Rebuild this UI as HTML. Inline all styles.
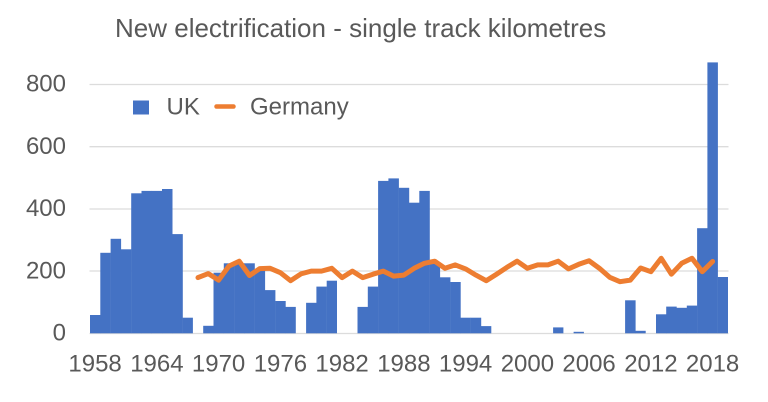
<!DOCTYPE html>
<html>
<head>
<meta charset="utf-8">
<style>
html,body{margin:0;padding:0;background:#fff;}
svg{display:block;}
text{font-family:"Liberation Sans","DejaVu Sans",sans-serif;fill:#595959;}
</style>
</head>
<body>
<svg width="768" height="402" viewBox="0 0 768 402" xmlns="http://www.w3.org/2000/svg">
<rect width="768" height="402" fill="#fff"/>
<text x="115" y="37" font-size="26">New electrification - single track kilometres</text>
<g stroke="#dcdcdc" stroke-width="1.3">
<line x1="89.5" y1="84.5" x2="728.5" y2="84.5"/>
<line x1="89.5" y1="146.7" x2="728.5" y2="146.7"/>
<line x1="89.5" y1="209" x2="728.5" y2="209"/>
<line x1="89.5" y1="271" x2="728.5" y2="271"/>
<line x1="89.5" y1="333.5" x2="728.5" y2="333.5"/>
</g>
<g font-size="24" text-anchor="end">
<text x="66" y="91.7">800</text>
<text x="66" y="153.9">600</text>
<text x="66" y="216.1">400</text>
<text x="66" y="278.3">200</text>
<text x="66" y="340.5">0</text>
</g>
<g fill="#4472C4">
<rect x="90.0" y="315.0" width="10.5" height="18.3"/>
<rect x="100.3" y="252.8" width="10.5" height="80.5"/>
<rect x="110.6" y="238.8" width="10.5" height="94.5"/>
<rect x="120.9" y="249.3" width="10.5" height="84.0"/>
<rect x="131.2" y="193.3" width="10.5" height="140.0"/>
<rect x="141.5" y="190.9" width="10.5" height="142.4"/>
<rect x="151.7" y="190.9" width="10.5" height="142.4"/>
<rect x="162.0" y="189.0" width="10.5" height="144.3"/>
<rect x="172.3" y="234.1" width="10.5" height="99.2"/>
<rect x="182.6" y="317.7" width="10.3" height="15.6"/>
<rect x="203.2" y="325.8" width="10.5" height="7.5"/>
<rect x="213.5" y="272.7" width="10.5" height="60.6"/>
<rect x="223.8" y="263.3" width="10.5" height="70.0"/>
<rect x="234.1" y="263.3" width="10.5" height="70.0"/>
<rect x="244.3" y="263.3" width="10.5" height="70.0"/>
<rect x="254.6" y="269.5" width="10.5" height="63.8"/>
<rect x="264.9" y="290.1" width="10.5" height="43.2"/>
<rect x="275.2" y="301.0" width="10.5" height="32.3"/>
<rect x="285.5" y="306.9" width="10.3" height="26.4"/>
<rect x="306.1" y="302.8" width="10.5" height="30.5"/>
<rect x="316.4" y="286.6" width="10.5" height="46.7"/>
<rect x="326.7" y="280.7" width="10.3" height="52.6"/>
<rect x="357.5" y="306.9" width="10.5" height="26.4"/>
<rect x="367.8" y="286.6" width="10.5" height="46.7"/>
<rect x="378.1" y="180.9" width="10.5" height="152.4"/>
<rect x="388.4" y="178.4" width="10.5" height="154.9"/>
<rect x="398.7" y="187.8" width="10.5" height="145.5"/>
<rect x="409.0" y="202.7" width="10.5" height="130.6"/>
<rect x="419.3" y="190.9" width="10.5" height="142.4"/>
<rect x="429.6" y="263.3" width="10.5" height="70.0"/>
<rect x="439.9" y="277.3" width="10.5" height="56.0"/>
<rect x="450.2" y="282.0" width="10.5" height="51.3"/>
<rect x="460.4" y="317.7" width="10.5" height="15.6"/>
<rect x="470.7" y="317.7" width="10.5" height="15.6"/>
<rect x="481.0" y="326.1" width="10.3" height="7.2"/>
<rect x="553.1" y="327.4" width="10.3" height="5.9"/>
<rect x="573.6" y="331.8" width="10.3" height="1.5"/>
<rect x="625.1" y="300.3" width="10.5" height="33.0"/>
<rect x="635.4" y="330.8" width="10.3" height="2.5"/>
<rect x="656.0" y="314.3" width="10.5" height="19.0"/>
<rect x="666.2" y="306.6" width="10.5" height="26.7"/>
<rect x="676.5" y="307.8" width="10.5" height="25.5"/>
<rect x="686.8" y="305.6" width="10.5" height="27.7"/>
<rect x="697.1" y="228.2" width="10.5" height="105.1"/>
<rect x="707.4" y="62.4" width="10.5" height="270.9"/>
<rect x="717.7" y="277.0" width="10.3" height="56.3"/>
</g>
<polyline fill="none" stroke="#ED7D31" stroke-width="5" stroke-linejoin="round" stroke-linecap="round" points="198.0,277.6 208.3,273.6 218.6,280.1 228.9,266.1 239.2,261.2 249.5,275.5 259.8,268.6 270.1,268.3 280.4,272.7 290.6,280.7 300.9,273.9 311.2,271.1 321.5,271.1 331.8,268.3 342.1,277.6 352.4,271.1 362.7,277.6 373.0,274.2 383.3,271.1 393.6,276.1 403.9,275.1 414.2,268.3 424.4,263.3 434.7,261.2 445.0,268.3 455.3,264.9 465.6,268.9 475.9,275.1 486.2,280.7 496.5,274.2 506.8,267.4 517.1,261.2 527.4,268.3 537.7,264.9 547.9,264.9 558.2,261.2 568.5,268.9 578.8,264.3 589.1,260.8 599.4,268.3 609.7,277.3 620.0,281.7 630.3,280.1 640.6,268.0 650.9,271.7 661.2,258.3 671.4,274.2 681.7,263.3 692.0,258.3 702.3,271.7 712.6,261.5"/>
<g font-size="24" text-anchor="middle">
<text x="95.1" y="371.7">1958</text>
<text x="156.9" y="371.7">1964</text>
<text x="218.6" y="371.7">1970</text>
<text x="280.4" y="371.7">1976</text>
<text x="342.1" y="371.7">1982</text>
<text x="403.9" y="371.7">1988</text>
<text x="465.6" y="371.7">1994</text>
<text x="527.4" y="371.7">2000</text>
<text x="589.1" y="371.7">2006</text>
<text x="650.9" y="371.7">2012</text>
<text x="712.6" y="371.7">2018</text>
</g>
<rect x="133" y="100.5" width="16" height="14" fill="#4472C4"/>
<text x="166.5" y="114.3" font-size="24">UK</text>
<line x1="216.5" y1="106.5" x2="233.5" y2="106.5" stroke="#ED7D31" stroke-width="4.5" stroke-linecap="round"/>
<text x="250" y="114.3" font-size="24">Germany</text>
</svg>
</body>
</html>
